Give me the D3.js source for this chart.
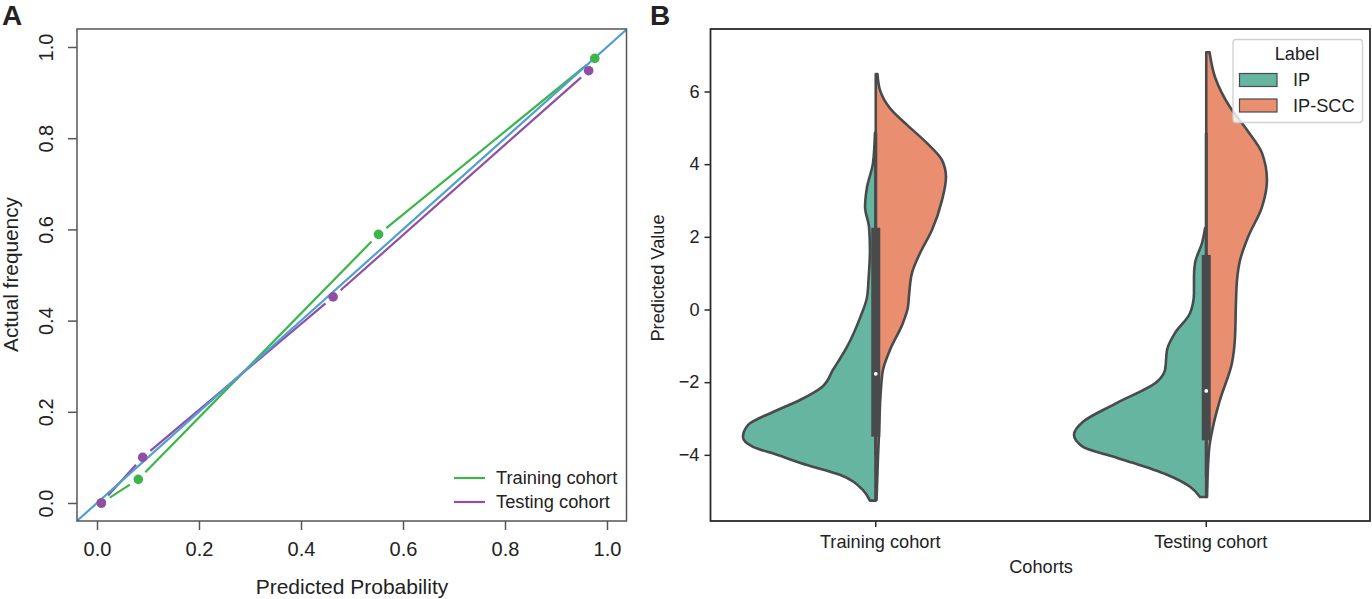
<!DOCTYPE html>
<html>
<head>
<meta charset="utf-8">
<script src="https://cdn.jsdelivr.net/npm/d3@7"></script>
<style>
  html, body { margin: 0; padding: 0; background: #fff; }
  svg { display: block; }
  text { font-family: "Liberation Sans", Arial, sans-serif; fill: #222; }
</style>
</head>
<body>
<svg id="chart" width="1372" height="599"></svg>
<script>
// panel A: calibration curves, [predicted, actual]
const trainingPts = [[0.0085, 0.0], [0.081, 0.052], [0.552, 0.589], [0.976, 0.975]];
const testingPts = [[0.0085, 0.0], [0.0896, 0.1], [0.463, 0.452], [0.964, 0.948]];
const refLine = [[-0.04, -0.04], [1.04, 1.04]];
const calibTicks = [0, 0.2, 0.4, 0.6, 0.8, 1.0];
const calibLegend = ["Training cohort", "Testing cohort"];

// panel B: split violins, [value, density]
const cohorts = ["Training cohort", "Testing cohort"];
const labels = ["IP", "IP-SCC"];
const trainIP = [[-5.26, .044], [-4.97, .097], [-4.55, .272], [-4.28, .521], [-4.0, .748], [-3.78, .93], [-3.51, 1.006],
  [-3.18, .968], [-2.82, .778], [-2.49, .574], [-2.13, .407], [-1.66, .324], [-1.03, .218], [-.23, .119], [.34, .066],
  [.81, .055], [1.64, .044], [2.27, .051], [2.82, .081], [3.37, .066], [4.03, .021], [4.86, .006]];
const trainSCC = [[-5.24, .006], [-4.06, .017], [-3.4, .025], [-2.21, .039], [-1.66, .055], [-1.11, .108], [-.37, .206],
  [.07, .244], [.34, .251], [1.0, .274], [1.55, .335], [2.19, .426], [3.01, .502], [3.65, .532], [4.11, .502],
  [4.58, .388], [5.08, .237], [5.54, .108], [6.04, .032], [6.48, .013]];
const testIP = [[-5.16, .047], [-4.88, .123], [-4.55, .297], [-4.22, .555], [-4.0, .752], [-3.78, .934], [-3.45, 1.002],
  [-3.09, .934], [-2.57, .676], [-1.99, .373], [-1.66, .312], [-1.11, .297], [-.65, .237], [-.1, .123], [.45, .093],
  [.89, .093], [1.28, .085], [1.83, .032], [2.24, .009]];
const testSCC = [[-5.16, .006], [-3.87, .021], [-3.23, .051], [-2.49, .104], [-1.47, .195], [-.76, .218], [.18, .225],
  [.81, .233], [1.36, .256], [1.99, .316], [2.82, .422], [3.56, .46], [4.31, .422], [4.94, .309], [5.57, .18],
  [6.4, .066], [7.08, .025]];
const boxQ1 = [-3.5, -3.6];
const boxQ3 = [2.25, 1.5];
const medians = [-1.77, -2.24];
const whiskerLow = [-4.0, -4.6];
const whiskerHigh = [4.86, 4.86];
const valueTicks = [-4, -2, 0, 2, 4, 6];

const svg = d3.select("#chart");
const green = "#3db54a", purple = "#8f4fa6", blue = "#4f9fd1";
const teal = "#66b5a0", orange = "#e98f70", edge = "#484a4c";

// ---- panel A ----
const xA = d3.scaleLinear().domain([0, 1]).range([97, 607]);
const yA = d3.scaleLinear().domain([0, 1]).range([503, 47]);
const frameA = { x: 77, y: 29, w: 549.5, h: 492 };
const a = svg.append("g");

a.append("clipPath").attr("id", "clipA").append("rect")
  .attr("x", frameA.x).attr("y", frameA.y).attr("width", frameA.w).attr("height", frameA.h);

// R's type="b" lines stop short of each point
const gap = 10;
function gappedSegments(pts) {
  const segs = [];
  d3.pairs(pts).forEach(([p, q]) => {
    const x0 = xA(p[0]), y0 = yA(p[1]), x1 = xA(q[0]), y1 = yA(q[1]);
    const len = Math.hypot(x1 - x0, y1 - y0);
    const ux = (x1 - x0) / len, uy = (y1 - y0) / len;
    segs.push([x0 + ux * gap, y0 + uy * gap, x1 - ux * gap, y1 - uy * gap]);
  });
  return segs;
}

[[trainingPts, green], [testingPts, purple]].forEach(([pts, col]) => {
  a.append("g").selectAll("line").data(gappedSegments(pts)).enter().append("line")
    .attr("x1", d => d[0]).attr("y1", d => d[1]).attr("x2", d => d[2]).attr("y2", d => d[3])
    .attr("stroke", col).attr("stroke-width", 2.2);
});

a.append("path").attr("clip-path", "url(#clipA)")
  .attr("d", d3.line().x(d => xA(d[0])).y(d => yA(d[1]))(refLine))
  .attr("fill", "none").attr("stroke", blue).attr("stroke-width", 2.2);

[[trainingPts, green], [testingPts, purple]].forEach(([pts, col]) => {
  a.append("g").selectAll("circle").data(pts).enter().append("circle")
    .attr("cx", d => xA(d[0])).attr("cy", d => yA(d[1])).attr("r", 4.8).attr("fill", col);
});

a.append("rect").attr("x", frameA.x).attr("y", frameA.y).attr("width", frameA.w).attr("height", frameA.h)
  .attr("fill", "none").attr("stroke", "#555").attr("stroke-width", 1.5);

const axisBottomA = a.append("g").attr("transform", `translate(0,${frameA.y + frameA.h})`)
  .call(d3.axisBottom(xA).tickValues(calibTicks).tickFormat(d3.format(".1f")).tickSize(9).tickPadding(12));
const axisLeftA = a.append("g").attr("transform", `translate(${frameA.x},0)`)
  .call(d3.axisLeft(yA).tickValues(calibTicks).tickFormat(d3.format(".1f")).tickSize(9));
axisBottomA.select(".domain").remove();
axisLeftA.select(".domain").remove();
axisBottomA.selectAll("line").attr("stroke", "#555").attr("stroke-width", 1.5);
axisLeftA.selectAll("line").attr("stroke", "#555").attr("stroke-width", 1.5);
axisBottomA.selectAll("text").style("font-size", "20px").attr("fill", "#222");
axisLeftA.selectAll("text").style("font-size", "20px").attr("fill", "#222")
  .attr("x", 0).attr("dy", 0)
  .attr("text-anchor", "middle")
  .attr("transform", "translate(-24,0) rotate(-90)");

a.append("text").attr("x", 352).attr("y", 594).attr("text-anchor", "middle")
  .style("font-size", "21px").text("Predicted Probability");
// the source panel is stretched along the text, so fit a smaller font to the same length
a.append("text").attr("transform", "translate(17.8,274.5) rotate(-90)").attr("text-anchor", "middle")
  .attr("textLength", 155).attr("lengthAdjust", "spacingAndGlyphs")
  .style("font-size", "19.5px").text("Actual frequency");

calibLegend.forEach((name, i) => {
  const ly = 478 + i * 24;
  a.append("line").attr("x1", 454).attr("x2", 485).attr("y1", ly).attr("y2", ly)
    .attr("stroke", i === 0 ? green : purple).attr("stroke-width", 2.2);
  a.append("text").attr("x", 496).attr("y", ly + 6).style("font-size", "18.3px").text(name);
});

svg.append("text").attr("x", 2).attr("y", 25).style("font-size", "28px").style("font-weight", "bold")
  .attr("fill", "#000").text("A");

// ---- panel B ----
const xB = d3.scaleBand().domain(cohorts).range([710.5, 1371.5]);
const yB = d3.scaleLinear().domain([0, 6]).range([309.5, 91.5]);
const densityPx = d3.scaleLinear().domain([0, 1]).range([0, 132]);
const b = svg.append("g");
const center = name => xB(name) + xB.bandwidth() / 2;

function drawHalf(pts, cohort, side, fill) {
  const c = center(cohort);
  const area = d3.area().curve(d3.curveMonotoneY)
    .y(d => yB(d[0])).x0(c).x1(d => c + side * densityPx(d[1]));
  b.append("path").attr("d", area(pts)).attr("fill", fill)
    .attr("stroke", edge).attr("stroke-width", 2.6).attr("stroke-linejoin", "round");
}
drawHalf(trainIP, cohorts[0], -1, teal);
drawHalf(trainSCC, cohorts[0], 1, orange);
drawHalf(testIP, cohorts[1], -1, teal);
drawHalf(testSCC, cohorts[1], 1, orange);

cohorts.forEach((name, i) => {
  const c = center(name);
  b.append("line").attr("x1", c).attr("x2", c).attr("y1", yB(whiskerLow[i])).attr("y2", yB(whiskerHigh[i]))
    .attr("stroke", edge).attr("stroke-width", 3);
  b.append("rect").attr("x", c - 4.5).attr("width", 9)
    .attr("y", yB(boxQ3[i])).attr("height", yB(boxQ1[i]) - yB(boxQ3[i])).attr("fill", edge);
  b.append("circle").attr("cx", c).attr("cy", yB(medians[i])).attr("r", 1.9).attr("fill", "#fff");
});

const frameB = { x: 710.5, y: 29, w: 659.5, h: 492 };
b.append("rect").attr("x", frameB.x).attr("y", frameB.y).attr("width", frameB.w).attr("height", frameB.h)
  .attr("fill", "none").attr("stroke", "#2b2b2b").attr("stroke-width", 1.8);

const axisBottomB = b.append("g").attr("transform", `translate(0,${frameB.y + frameB.h})`)
  .call(d3.axisBottom(xB).tickSize(6).tickPadding(8));
const axisLeftB = b.append("g").attr("transform", `translate(${frameB.x},0)`)
  .call(d3.axisLeft(yB).tickValues(valueTicks).tickFormat(d3.format("d")).tickSize(6).tickPadding(5));
[axisBottomB, axisLeftB].forEach(ax => {
  ax.select(".domain").remove();
  ax.selectAll("line").attr("stroke", "#2b2b2b").attr("stroke-width", 1.5);
  ax.selectAll("text").style("font-size", "18.2px").attr("fill", "#222");
});
axisBottomB.selectAll("text").attr("dx", 4.5);

b.append("text").attr("x", 1041).attr("y", 573).attr("text-anchor", "middle")
  .style("font-size", "18.2px").text("Cohorts");
b.append("text").attr("transform", "translate(664,278) rotate(-90)").attr("text-anchor", "middle")
  .style("font-size", "18.2px").text("Predicted Value");

// legend sits over the violin, half see-through like matplotlib's frame
const lg = b.append("g");
lg.append("rect").attr("x", 1233).attr("y", 39.5).attr("width", 129.5).attr("height", 83).attr("rx", 3)
  .attr("fill", "rgba(255,255,255,0.8)").attr("stroke", "#d0d0d0").attr("stroke-width", 1.3);
lg.append("text").attr("x", 1297).attr("y", 60).attr("text-anchor", "middle")
  .style("font-size", "18.2px").text("Label");
labels.forEach((name, i) => {
  lg.append("rect").attr("x", 1239.5).attr("y", 73.5 + i * 25.5).attr("width", 37.5).attr("height", 13)
    .attr("fill", i === 0 ? teal : orange).attr("stroke", edge).attr("stroke-width", 1.2);
  lg.append("text").attr("x", 1293).attr("y", 86 + i * 25.5).style("font-size", "18.2px").text(name);
});

svg.append("text").attr("x", 650).attr("y", 25).style("font-size", "28px").style("font-weight", "bold")
  .attr("fill", "#000").text("B");
</script>
</body>
</html>
